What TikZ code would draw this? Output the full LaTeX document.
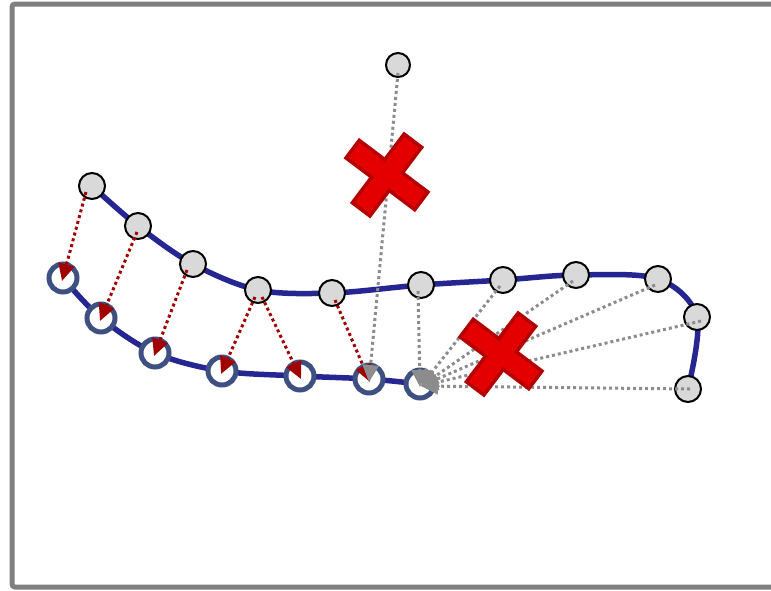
\documentclass[tikz,border=0pt]{standalone}
\usetikzlibrary{arrows.meta}
\definecolor{curveblue}{HTML}{262692}
\definecolor{ringblue}{HTML}{3E5082}
\definecolor{nodegray}{HTML}{D9D9D9}
\definecolor{arrowred}{HTML}{A00000}
\definecolor{crossfill}{HTML}{E40000}
\definecolor{crossedge}{HTML}{B40000}
\definecolor{linegray}{HTML}{8C8C8C}
\definecolor{framegray}{HTML}{808080}
\tikzset{
  curve/.style={draw=curveblue, line width=5.5pt},
  topnode/.style={circle, draw=black, fill=nodegray, line width=2pt, minimum size=26pt, inner sep=0pt},
  ringnode/.style={circle, draw=ringblue, fill=white, line width=5pt, minimum size=28pt, inner sep=0pt},
  redarrow/.style={draw=arrowred, line width=3pt, dash pattern=on 3pt off 3pt, -{Triangle[length=17pt,width=16pt]}, arrowred},
  grayarrow/.style={draw=linegray, line width=3pt, dash pattern=on 3pt off 3pt, -{Triangle[length=17pt,width=16pt]}, linegray},
  crossshape/.style={fill=crossfill, draw=crossedge, line width=3.5pt, line join=miter},
  cross/.pic={\path[crossshape] (11,11) -- (43,11) -- (43,-11) -- (11,-11) -- (11,-43) -- (-11,-43) -- (-11,-11) -- (-43,-11) -- (-43,11) -- (-11,11) -- (-11,43) -- (11,43) -- cycle;}
}
\begin{document}
\begin{tikzpicture}[x=1pt,y=-1pt]
\useasboundingbox (0,0) rectangle (771,590);
\clip (0,0) rectangle (771,590);
\draw[framegray, line width=5pt, rounded corners=3pt] (12,4) rectangle (800,587);
% positions
\coordinate (p1) at (92,186);
\coordinate (p2) at (138,226);
\coordinate (p3) at (193,264);
\coordinate (p4) at (258,290);
\coordinate (p5) at (332,293);
\coordinate (p6) at (421,285);
\coordinate (p7) at (503,280);
\coordinate (p8) at (576,275);
\coordinate (p9) at (658,279);
\coordinate (p10) at (697,317);
\coordinate (p11) at (688,389);
\coordinate (q1) at (63,278);
\coordinate (q2) at (101,318);
\coordinate (q3) at (155,353);
\coordinate (q4) at (222,371);
\coordinate (q5) at (300,376);
\coordinate (q6) at (369,379);
\coordinate (q7) at (420,384);
% curves
\draw[curve] plot[smooth, tension=0.55] coordinates {(p1) (p2) (p3) (p4) (p5) (p6) (p7) (p8) (p9) (p10) (p11)};
\draw[curve] plot[smooth, tension=0.55] coordinates {(q1) (q2) (q3) (q4) (q5) (q6) (q7)};
% nodes
\foreach \i in {1,...,11} \node[topnode] (t\i) at (p\i) {};
\foreach \i in {1,...,7} \node[ringnode] (b\i) at (q\i) {};
\node[topnode, minimum size=24pt] (top) at (398,65) {};
% red arrows
\draw[redarrow] ([shift={(-6,6)}]t1.center) -- ([shift={(-1,3)}]b1.center);
\draw[redarrow] ([shift={(-1,6)}]t2.center) -- ([shift={(-1,3)}]b2.center);
\draw[redarrow] ([shift={(-6,6)}]t3.center) -- ([shift={(-1,3)}]b3.center);
\draw[redarrow] ([shift={(-3,7)}]t4.center) -- ([shift={(-1,3)}]b4.center);
\draw[redarrow] ([shift={(4,7)}]t4.center) -- ([shift={(1,3)}]b5.center);
\draw[redarrow] ([shift={(3,7)}]t5.center) -- ([shift={(1,3)}]b6.center);
% gray arrows
\draw[grayarrow] ([shift={(0,8)}]top.center) -- ([shift={(0,3)}]b6.center);
\draw[grayarrow] ([shift={(-3,6)}]t6.center) -- ([shift={(0,3)}]b7.center);
\draw[grayarrow] ([shift={(-3,6)}]t7.center) -- ([shift={(1,2)}]b7.center);
\draw[grayarrow] ([shift={(-3,6)}]t8.center) -- ([shift={(1,2)}]b7.center);
\draw[grayarrow] ([shift={(-3,6)}]t9.center) -- ([shift={(1,2)}]b7.center);
\draw[grayarrow] ([shift={(4,4)}]t10.center) -- ([shift={(1,2)}]b7.center);
\draw[grayarrow] ([shift={(2,0)}]t11.center) -- ([shift={(1,2)}]b7.center);
% crosses
\pic[rotate=-37] (x1) at (387,175) {cross};
\pic[rotate=-37] (x2) at (501,354) {cross};
\end{tikzpicture}
\end{document}
